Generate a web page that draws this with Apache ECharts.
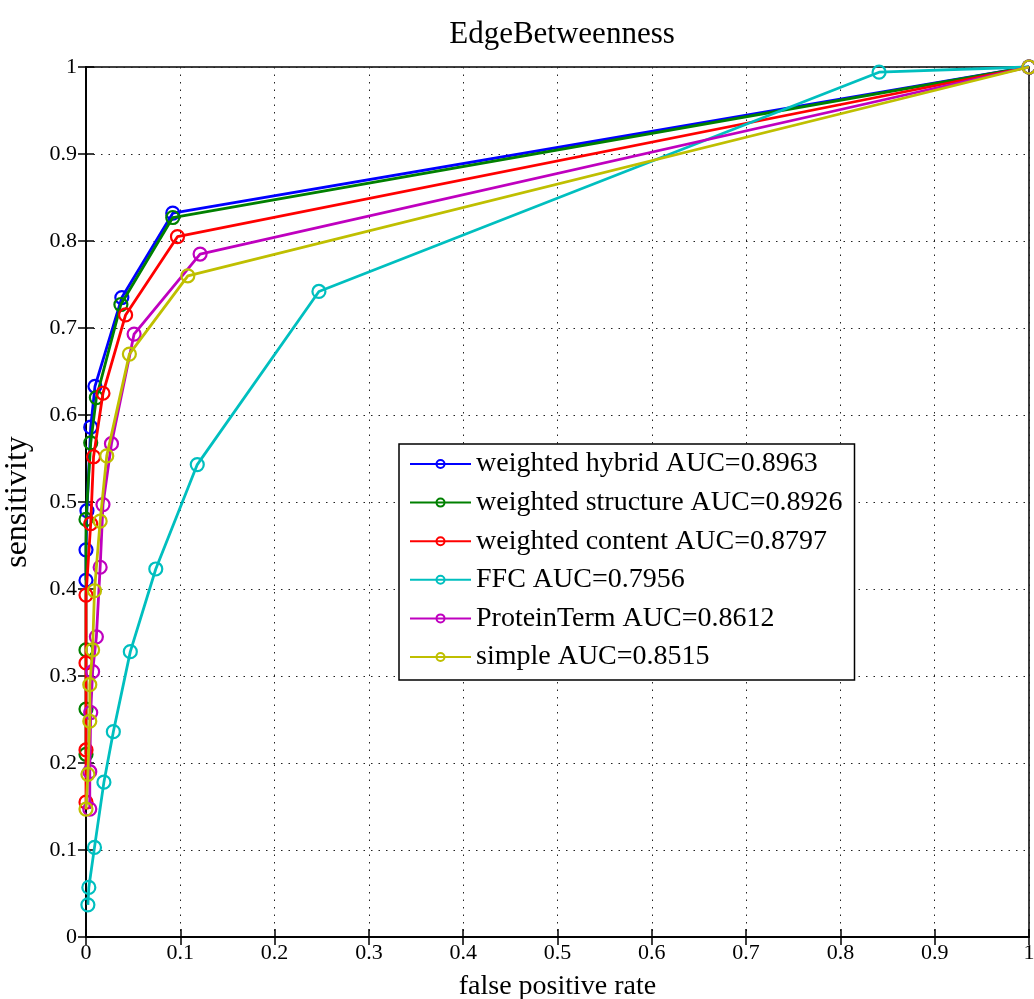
<!DOCTYPE html>
<html>
<head>
<meta charset="utf-8">
<script src="https://cdn.jsdelivr.net/npm/echarts@6/dist/echarts.min.js"></script>
<style>
html,body{margin:0;padding:0;background:#fff;}
#chart{width:1034px;height:999px;}
</style>
</head>
<body>
<div id="chart"></div>
<script>
const titleText = 'EdgeBetweenness';
const xLabel = 'false positive rate';
const yLabel = 'sensitivity';
const seriesNames = [
  'weighted hybrid AUC=0.8963',
  'weighted structure AUC=0.8926',
  'weighted content AUC=0.8797',
  'FFC AUC=0.7956',
  'ProteinTerm AUC=0.8612',
  'simple AUC=0.8515'
];
const seriesColors = ['#0000ff', '#008000', '#ff0000', '#00bfbf', '#bf00bf', '#bfbf00'];

const hybrid = [[0,0.41],[0,0.445],[0.001,0.49],[0.005,0.586],[0.0095,0.633],[0.038,0.735],[0.092,0.832],[1,1]];
const structure = [[0,0.21],[0,0.262],[0,0.33],[0,0.48],[0.005,0.568],[0.011,0.62],[0.037,0.727],[0.092,0.827],[1,1]];
const content = [[0,0.155],[0,0.215],[0,0.315],[0,0.393],[0.005,0.475],[0.008,0.552],[0.018,0.625],[0.042,0.715],[0.097,0.805],[1,1]];
const ffc = [[0.002,0.037],[0.003,0.057],[0.009,0.103],[0.019,0.178],[0.029,0.236],[0.047,0.328],[0.074,0.423],[0.118,0.543],[0.247,0.742],[0.841,0.994],[1,1]];
const proteinTerm = [[0.004,0.147],[0.004,0.19],[0.005,0.258],[0.007,0.305],[0.011,0.345],[0.015,0.425],[0.018,0.497],[0.027,0.567],[0.051,0.693],[0.121,0.785],[1,1]];
const simple = [[0,0.147],[0.002,0.187],[0.004,0.248],[0.004,0.29],[0.007,0.33],[0.009,0.398],[0.015,0.478],[0.022,0.553],[0.046,0.67],[0.108,0.76],[1,1]];
const allData = [hybrid, structure, content, ffc, proteinTerm, simple];

const FONT = '"Liberation Serif", "Times New Roman", serif';
const chart = echarts.init(document.getElementById('chart'), null, {renderer: 'canvas'});

const splitStyle = {show: true, lineStyle: {color: '#222', type: [1.5, 6], width: 1}};
const option = {
  backgroundColor: '#fff',
  animation: false,
  title: {
    text: titleText, left: 557, top: 14, textAlign: 'center',
    textStyle: {fontFamily: FONT, fontSize: 31, fontWeight: 'normal', color: '#000'}
  },
  grid: {left: 86, right: 5, top: 67, bottom: 62, containLabel: false, outerBoundsMode: 'none',
    show: true, borderColor: '#000', borderWidth: 1.5, backgroundColor: '#fff'},
  legend: {
    orient: 'vertical', left: 399, top: 444,
    backgroundColor: '#fff', borderColor: '#000', borderWidth: 1.5,
    padding: [5, 12, 8, 10], itemGap: 8.6, itemWidth: 61, itemHeight: 10,
    textStyle: {fontFamily: FONT, fontSize: 28, color: '#000', lineHeight: 30},
    data: seriesNames
  },
  xAxis: [{
    type: 'value', min: 0, max: 1, interval: 0.1,
    name: xLabel, nameLocation: 'middle', nameGap: 36,
    nameTextStyle: {fontFamily: FONT, fontSize: 28, color: '#000'},
    axisLine: {show: true, onZero: false, lineStyle: {color: '#000', width: 1.5}},
    axisTick: {show: true, inside: true, length: 8, lineStyle: {color: '#000', width: 1.5}},
    axisLabel: {fontFamily: FONT, fontSize: 22, color: '#000', margin: 5},
    splitLine: splitStyle
  }, {
    type: 'value', position: 'top', min: 0, max: 1, interval: 0.1,
    axisLine: {show: true, lineStyle: {color: '#000', width: 1.5}},
    axisTick: {show: true, inside: true, length: 8, lineStyle: {color: '#000', width: 1.5}},
    axisLabel: {show: false}, splitLine: {show: false}
  }],
  yAxis: [{
    type: 'value', min: 0, max: 1, interval: 0.1,
    name: yLabel, nameLocation: 'middle', nameGap: 52, nameRotate: 90,
    nameTextStyle: {fontFamily: FONT, fontSize: 32, color: '#000'},
    axisLine: {show: true, onZero: false, lineStyle: {color: '#000', width: 1.5}},
    axisTick: {show: true, inside: true, length: 8, lineStyle: {color: '#000', width: 1.5}},
    axisLabel: {fontFamily: FONT, fontSize: 22, color: '#000', margin: 9},
    splitLine: splitStyle
  }, {
    type: 'value', position: 'right', min: 0, max: 1, interval: 0.1,
    axisLine: {show: true, lineStyle: {color: '#000', width: 1.5}},
    axisTick: {show: true, inside: true, length: 8, lineStyle: {color: '#000', width: 1.5}},
    axisLabel: {show: false}, splitLine: {show: false}
  }],
  series: seriesNames.map((name, i) => ({
    name: name, type: 'line', data: allData[i],
    xAxisIndex: 0, yAxisIndex: 0,
    symbol: 'circle', symbolSize: 13, showSymbol: true,
    color: seriesColors[i],
    itemStyle: {color: 'rgba(255,255,255,0)', borderColor: seriesColors[i], borderWidth: 2.2},
    lineStyle: {color: seriesColors[i], width: 2.8},
    clip: false, z: 2 + i
  }))
};
chart.setOption(option);
</script>
</body>
</html>
